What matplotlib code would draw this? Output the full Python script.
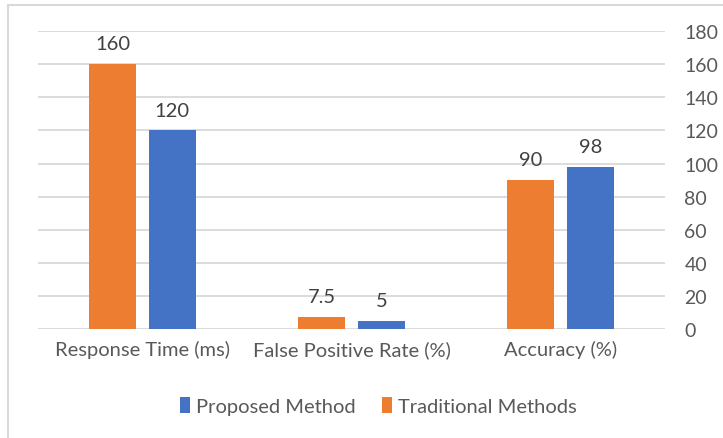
import numpy as np
import matplotlib.pyplot as plt
from matplotlib.patches import Rectangle

# data
categories = ["Response Time (ms)", "False Positive Rate (%)", "Accuracy (%)"]
traditional = [160, 7.5, 90]
proposed = [120, 5, 98]
trad_labels = ["160", "7.5", "90"]
prop_labels = ["120", "5", "98"]
yticks = [0, 20, 40, 60, 80, 100, 120, 140, 160, 180]

ORANGE = "#ED7D31"
BLUE = "#4472C4"
TEXT = "#595959"
FS = 14.5

plt.rcParams["font.family"] = ["Lato", "DejaVu Sans"]

fig = plt.figure(figsize=(7.23, 4.39), dpi=100)
ax = fig.add_axes([0.0526, 0.248, 0.867, 0.679])

x = np.arange(len(categories))
w = 0.225
off = 0.143
b1 = ax.bar(x - off, traditional, w, color=ORANGE, label="Traditional Methods", zorder=3)
b2 = ax.bar(x + off, proposed, w, color=BLUE, label="Proposed Method", zorder=3)

for bars, labs in ((b1, trad_labels), (b2, prop_labels)):
    for bar, lab in zip(bars, labs):
        ax.annotate(lab, (bar.get_x() + bar.get_width() / 2, bar.get_height()),
                    xytext=(0, 8.5), textcoords="offset points", ha="center", va="bottom",
                    fontsize=FS, color="#404040")

ax.set_xlim(-0.5, 2.5)
ax.set_ylim(0, 180)
ax.set_yticks(yticks)
ax.yaxis.tick_right()
ax.tick_params(axis="y", length=0, pad=14, labelsize=14, labelcolor=TEXT)
ax.set_xticks(x)
ax.set_xticklabels(categories)
ax.tick_params(axis="x", length=0, pad=8, labelsize=FS, labelcolor=TEXT)
for lbl in ax.get_yticklabels():
    lbl.set_horizontalalignment("left")
ax.grid(axis="y", color="#D9D9D9", linewidth=1.3, zorder=0)
for s in ax.spines.values():
    s.set_visible(False)

handles = [b2, b1]
leg = fig.legend(handles, ["Proposed Method", "Traditional Methods"], loc="center",
                 bbox_to_anchor=(0.523, 0.073), ncol=2, frameon=False,
                 fontsize=FS, handlelength=0.5, handleheight=0.8,
                 handletextpad=0.3, columnspacing=1.3)
for t in leg.get_texts():
    t.set_color(TEXT)

# chart frame (cropped at right and bottom)
fig.patches.append(Rectangle((8 / 723, -0.05), 1.1, 1 - 6 / 439 + 0.05,
                             transform=fig.transFigure, fill=False,
                             edgecolor="#D9D9D9", linewidth=1.5))

fig.savefig("out.png", dpi=100)
